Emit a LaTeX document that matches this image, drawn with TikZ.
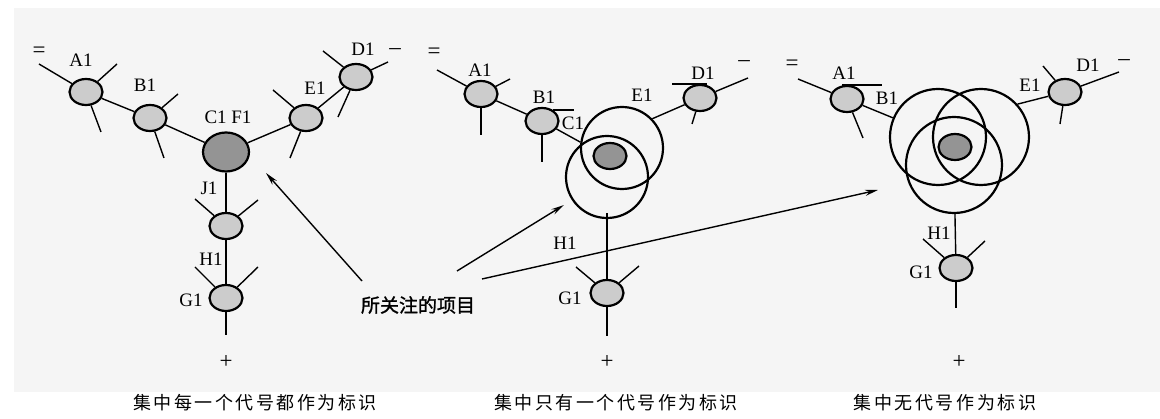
\documentclass[tikz,border=0pt]{standalone}
\usepackage{fontspec}
\setmainfont{Liberation Serif}
\newfontfamily\cjkbold[FakeBold=1.2]{Noto Sans CJK SC}
\newfontfamily\cjkcap[LetterSpace=14]{Noto Sans CJK SC}
\usetikzlibrary{shapes.geometric,arrows.meta}

\tikzset{
  item/.style={ellipse,draw,line width=2.2pt,fill=black!20,minimum width=33pt,minimum height=26pt,inner sep=0},
  hub/.style={item,fill=black!42,minimum width=46pt,minimum height=39pt},
  core/.style={item,fill=black!42},
  ring/.style={circle,draw,line width=2.2pt,minimum size=82pt,inner sep=0},
  bigring/.style={ring,minimum size=96pt},
  link/.style={line width=1.4pt},
  tag/.style={font=\fontsize{19}{19}\selectfont,inner sep=0},
  sign/.style={font=\fontsize{23}{23}\selectfont,inner sep=0},
  caption/.style={font=\cjkcap\fontsize{18}{18}\selectfont,inner sep=0},
  pointer/.style={line width=1.4pt,-{Stealth[length=13pt,width=6pt]}}
}

\begin{document}
\begin{tikzpicture}[x=1pt,y=-1pt]
    \useasboundingbox (0,0) rectangle (1160,419);
    \fill[black!4] (14,8) rectangle (1160,392);

    % Jeder Code als Kennung
    \node[item] (a1) at (86,92) {};
    \node[item] (b1) at (150,118) {};
    \node[hub]  (c1) at (226,152) {};
    \node[item] (e1) at (306,118) {};
    \node[item] (d1) at (356,77) {};
    \node[item] (j1) at (226,226) {};
    \node[item] (g1) at (226,298) {};

    % Nur ein Code als Kennung
    \node[item] (a2) at (481,94) {};
    \node[item] (b2) at (542,121) {};
    \node[ring] (u2) at (622,148) {};
    \node[ring] (l2) at (607,177) {};
    \node[core] (k2) at (610,156) {};
    \node[item] (d2) at (700,98) {};
    \node[item] (g2) at (607,293) {};

    % Kein Code als Kennung
    \node[item]    (a3) at (847,99) {};
    \node[bigring] (l3) at (938,137) {};
    \node[bigring] (r3) at (981,137) {};
    \node[bigring] (m3) at (954,165) {};
    \node[core]    (k3) at (955,147) {};
    \node[item]    (e3) at (1065,92) {};
    \node[item]    (g3) at (956,268) {};

    % Verbindungen
    \foreach \u/\v in {a1/b1,b1/c1,c1/e1,e1/d1,c1/j1,j1/g1,a2/b2,m3/g3} {
        \draw[link] (\u) -- (\v);
    }
    \draw[link] (b2) -- (u2.172);
    \draw[link] (u2.44) -- (d2);
    \draw[link] ([yshift=6pt]l2.south) -- (g2);
    \draw[link] (a3) -- (l3.157);
    \draw[link] (r3.42) -- (e3);

    % kurze Aeste
    \foreach \n/\px/\py [count=\i] in {a1/39/64, a1/117/64, a1/101/132, b1/178/94, b1/164/158,
        e1/273/90, e1/290/158, d1/323/51, d1/388/62, d1/338/117, j1/195/199, j1/258/200,
        g1/195/267, g1/258/267, g1/226/335, a2/437/70, a2/510/79, a2/481/135, b2/542/162,
        d2/748/78, d2/692/124, g2/576/267, g2/639/266, g2/607/336, a3/798/79, a3/863/138,
        e3/1043/66, e3/1119/72, e3/1060/124, g3/923/239, g3/985/241, g3/956/308} {
        \coordinate (end\i) at (\px,\py);
        \draw[link] (\n) -- (end\i);
    }
    \draw[link] (b2.45) -- ++(21,0);
    \draw[link] ([xshift=7pt]d2.north) -- ++(-35,0);
    \draw[link] ([xshift=-5pt]a3.north) -- ++(40,0);

    % Beschriftungen
    \foreach \t/\px/\py [count=\i] in {A1/81/60, B1/145/85, C1 F1/228/117, E1/315/88,
        D1/363/49, J1/209/188, H1/211/259, G1/191/300,
        A1/480/70, B1/544/97, C1/573/123, E1/642/95, D1/703/73,
        H1/565/243, G1/570/298,
        A1/844/73, B1/887/98, E1/1030/85, D1/1088/65,
        H1/939/233, G1/921/272} {
        \node[tag] (tag\i) at (\px,\py) {\t};
    }
    \foreach \t/\px/\py [count=\i] in {=/39/52, –/395/52, +/226/362, =/434/53, –/744/64,
        +/607/362, =/792/65, –/1124/63, +/959/362} {
        \node[sign] (sign\i) at (\px,\py) {\t};
    }

    % Hinweis
    \node[font=\cjkbold\fontsize{19}{19}\selectfont,inner sep=0] (focus) at (418,305) {所关注的项目};
    \coordinate (tip1) at (266,173);
    \coordinate (tip2) at (564,205);
    \coordinate (tip3) at (878,190);
    \draw[pointer] ([shift={(-56,-15)}]focus.north) -- (tip1);
    \draw[pointer] ([shift={(39,-25)}]focus.north) -- (tip2);
    \draw[pointer] ([shift={(64,-17)}]focus.north) -- (tip3);

    % Unterschriften
    \node[caption] (cap1) at (255,403) {集中每一个代号都作为标识};
    \node[caption] (cap2) at (616,403) {集中只有一个代号作为标识};
    \node[caption] (cap3) at (945,403) {集中无代号作为标识};
\end{tikzpicture}
\end{document}
